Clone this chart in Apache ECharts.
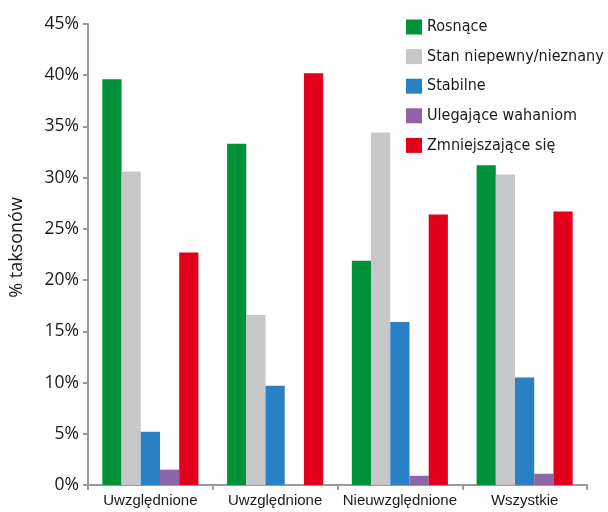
<!DOCTYPE html>
<html>
<head>
<meta charset="utf-8">
<script src="https://cdn.jsdelivr.net/npm/echarts@6/dist/echarts.min.js"></script>
<style>
  html, body { margin: 0; padding: 0; background: #ffffff; }
  #chart { width: 608px; height: 512px; }
</style>
</head>
<body>
<div id="chart"></div>
<script>
// Categories along the x axis
const categories = ['Uwzględnione', 'Uwzględnione', 'Nieuwzględnione', 'Wszystkie'];

// Share of taxa (%) per trend class
const rosnace = [39.6, 33.3, 21.9, 31.2];
const stanNiepewny = [30.6, 16.6, 34.4, 30.3];
const stabilne = [5.2, 9.7, 15.9, 10.5];
const ulegajaceWahaniom = [1.5, 0, 0.9, 1.1];
const zmniejszajace = [22.7, 40.2, 26.4, 26.7];

// Y axis ticks
const yTicks = [0, 5, 10, 15, 20, 25, 30, 35, 40, 45];

const seriesDefs = [
  { name: 'Rosnące', data: rosnace, color: '#00913a' },
  { name: 'Stan niepewny/nieznany', data: stanNiepewny, color: '#c6c7c9' },
  { name: 'Stabilne', data: stabilne, color: '#2a80c4' },
  { name: 'Ulegające wahaniom', data: ulegajaceWahaniom, color: '#8e66a8' },
  { name: 'Zmniejszające się', data: zmniejszajace, color: '#e2001c' }
];

const sansFont = '"Liberation Sans", Arial, sans-serif';
const narrowFont = '"DejaVu Sans Condensed", "DejaVu Sans", sans-serif';
const valueFont = '"Open Sans", "Noto Sans", sans-serif';
const axisColor = '#9a9a9a';
const textColor = '#1a1a1a';

const chart = echarts.init(document.getElementById('chart'), null, { renderer: 'canvas' });

chart.setOption({
  animation: false,
  backgroundColor: '#ffffff',
  textStyle: { fontFamily: sansFont, color: textColor },
  grid: { left: 87, right: 21, top: 24, bottom: 27, containLabel: false },
  legend: {
    orient: 'vertical',
    left: 406,
    top: 19,
    padding: 0,
    itemWidth: 16,
    itemHeight: 15,
    itemGap: 13.6,
    itemStyle: { borderWidth: 0 },
    icon: 'rect',
    textStyle: { fontSize: 16, lineHeight: 15, color: textColor, fontFamily: narrowFont },
    data: seriesDefs.map(s => s.name)
  },
  xAxis: {
    type: 'category',
    data: categories,
    axisLine: { show: true, lineStyle: { color: axisColor, width: 2 } },
    axisTick: { show: true, length: 5, lineStyle: { color: axisColor, width: 2 } },
    axisLabel: { fontSize: 15, color: textColor, fontFamily: sansFont, margin: 8, interval: 0 },
    splitLine: { show: false }
  },
  yAxis: {
    type: 'value',
    min: yTicks[0],
    max: yTicks[yTicks.length - 1],
    interval: yTicks[1] - yTicks[0],
    name: '% taksonów',
    nameLocation: 'middle',
    nameGap: 62,
    nameRotate: 90,
    nameTextStyle: { fontSize: 18, color: textColor, fontFamily: valueFont, padding: [0, 0, 0, 14] },
    axisLine: { show: true, lineStyle: { color: axisColor, width: 2 } },
    axisTick: { show: true, length: 5, lineStyle: { color: axisColor, width: 2 } },
    axisLabel: { fontSize: 17.5, color: textColor, fontFamily: valueFont, margin: 9, formatter: '{value}%' },
    splitLine: { show: false }
  },
  series: seriesDefs.map(s => ({
    name: s.name,
    type: 'bar',
    data: s.data,
    itemStyle: { color: s.color },
    barGap: '0%',
    barCategoryGap: '23%'
  }))
});
</script>
</body>
</html>
